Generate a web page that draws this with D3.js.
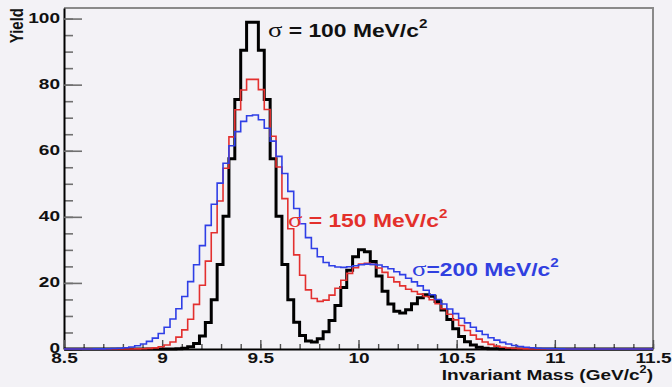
<!DOCTYPE html>
<html>
<head>
<meta charset="utf-8">
<script src="https://cdn.jsdelivr.net/npm/d3@7"></script>
<style>
  body { margin: 0; background: #f3f2f6; }
  svg { display: block; }
  text { font-family: "Liberation Sans", Arial, sans-serif; font-weight: bold; }
</style>
</head>
<body>
<svg id="chart" width="672" height="387"></svg>
<script>
// histogram binning (GeV/c^2)
const massMin = 8.5;
const massMax = 11.5;
const binWidth = 0.03;

// yields per bin, 100 bins from 8.5 to 11.5
const sigma100 = [
  0, 0, 0, 0, 0, 0, 0, 0, 0, 0, 0, 0, 0, 0, 0, 0, 0, 0,
  0.03, 0.09, 0.26, 0.7, 1.7, 3.9, 8.0, 14.9, 25.6, 40.2, 57.6, 75.5,
  90.4, 98.9, 98.9, 90.4, 75.5, 57.6, 40.2, 25.6, 14.9, 8.1,
  4.1, 2.4, 2.1, 3.1, 5.2, 8.6, 13.2, 18.6, 23.8, 27.9,
  30.0, 29.4, 26.5, 22.1, 17.5, 13.6, 11.4, 10.9, 11.9, 13.7,
  15.5, 16.4, 16.0, 14.4, 11.8, 8.9, 6.1, 3.8, 2.2, 1.2,
  0.55, 0.24, 0.1, 0.04,
  0, 0, 0, 0, 0, 0, 0, 0, 0, 0, 0, 0, 0, 0, 0, 0, 0, 0, 0, 0, 0, 0, 0, 0, 0, 0
];
const sigma150 = [
  0, 0, 0, 0, 0, 0, 0, 0, 0, 0, 0, 0,
  0.04, 0.09, 0.18, 0.35, 0.67, 1.2, 2.1, 3.6, 5.8, 9.0,
  13.5, 19.3, 26.6, 35.2, 44.8, 54.7, 64.2, 72.4, 78.4, 81.6,
  81.6, 78.5, 72.5, 64.4, 55.1, 45.5, 36.4, 28.5, 22.3, 17.9,
  15.3, 14.4, 14.8, 16.3, 18.4, 20.8, 22.9, 24.6, 25.7, 25.9,
  25.6, 24.5, 23.2, 21.7, 20.3, 19.1, 18.1, 17.4, 16.6, 15.9,
  14.9, 13.7, 12.2, 10.5, 8.8, 7.1, 5.6, 4.2, 3.0, 2.1,
  1.4, 0.88, 0.54, 0.32, 0.18, 0.1, 0.05, 0.02,
  0, 0, 0, 0, 0, 0, 0, 0, 0, 0, 0, 0, 0, 0, 0, 0, 0, 0, 0, 0
];
const sigma200 = [
  0, 0, 0, 0, 0,
  0.03, 0.05, 0.08, 0.14, 0.24, 0.39, 0.62, 0.98, 1.5, 2.3,
  3.3, 4.7, 6.6, 9.1, 12.2, 15.9, 20.4, 25.5, 31.3, 37.4,
  43.8, 50.2, 56.2, 61.5, 65.8, 68.9, 70.6, 70.8, 69.4, 66.8,
  62.9, 58.3, 53.1, 47.7, 42.5, 37.9, 33.7, 30.4, 27.9, 26.2,
  25.2, 24.8, 24.7, 24.9, 25.2, 25.5, 25.7, 25.6, 25.4, 24.9,
  24.3, 23.4, 22.5, 21.4, 20.3, 19.1, 17.8, 16.4, 15.0, 13.6,
  12.1, 10.7, 9.3, 7.9, 6.6, 5.4, 4.4, 3.4, 2.7, 2.0,
  1.5, 1.07, 0.76, 0.53, 0.36, 0.24, 0.15, 0.1, 0.06, 0.04, 0.02,
  0, 0, 0, 0, 0, 0, 0, 0, 0, 0, 0, 0, 0, 0
];

const xTicks = [8.5, 9, 9.5, 10, 10.5, 11, 11.5];
const yTicks = [0, 20, 40, 60, 80, 100];
const yMax = 103.2;

const margin = {top: 8, right: 19, bottom: 38, left: 64};
const width = 672, height = 387;
const stretch = 1.27; // text in the source is drawn a bit wide

const svg = d3.select('#chart');

svg.append('rect').attr('width', width).attr('height', height).attr('fill', '#f3f2f6');

const x = d3.scaleLinear().domain([massMin, massMax]).range([margin.left, width - margin.right]);
const y = d3.scaleLinear().domain([0, yMax]).range([height - margin.bottom, margin.top]);

// frame: gray top and right edges
svg.append('path')
  .attr('d', `M${x(massMin)},${y(yMax)}H${x(massMax)}V${y(0)}`)
  .attr('fill', 'none')
  .attr('stroke', '#8a8a8a')
  .attr('stroke-width', 2);

// y axis, ticks point inside
const yMinor = svg.append('g')
  .attr('transform', `translate(${x(massMin)},0)`)
  .call(d3.axisLeft(y).tickValues(d3.range(0, 101, 5)).tickSize(-9).tickSizeOuter(0).tickFormat(''));
yMinor.select('.domain').remove();
yMinor.selectAll('line').attr('stroke', '#707070').attr('stroke-width', 1.6);

const yAxis = svg.append('g')
  .attr('transform', `translate(${x(massMin)},0)`)
  .call(d3.axisLeft(y).tickValues(yTicks).tickSize(-18).tickSizeOuter(0))
  .attr('font-size', 15)
  .attr('font-family', null);
yAxis.select('.domain').attr('stroke', '#000').attr('stroke-width', 2);
yAxis.selectAll('line').attr('stroke', '#707070').attr('stroke-width', 1.6);
yAxis.selectAll('text')
  .attr('x', null)
  .attr('fill', '#111')
  .attr('transform', `translate(-4,-1) scale(${stretch},1)`);

// x axis
const xMinor = svg.append('g')
  .attr('transform', `translate(0,${y(0)})`)
  .call(d3.axisBottom(x).tickValues(d3.range(massMin, massMax + 0.01, 0.1)).tickSize(-5).tickSizeOuter(0).tickFormat(''));
xMinor.select('.domain').remove();
xMinor.selectAll('line').attr('stroke', '#505050').attr('stroke-width', 1.4);

const xAxis = svg.append('g')
  .attr('transform', `translate(0,${y(0)})`)
  .call(d3.axisBottom(x).tickValues(xTicks).tickSize(-9).tickSizeOuter(0).tickFormat(d => d))
  .attr('font-size', 15)
  .attr('font-family', null);
xAxis.select('.domain').attr('stroke', '#000').attr('stroke-width', 2);
xAxis.selectAll('line').attr('stroke', '#505050').attr('stroke-width', 1.4);
xAxis.selectAll('text')
  .attr('y', null)
  .attr('dy', null)
  .attr('fill', '#111')
  .attr('transform', `translate(0,14) scale(${stretch},1)`);

// histograms as step outlines
function binPoints(values) {
  const pts = values.map((v, i) => [massMin + i * binWidth, v]);
  pts.push([massMin + values.length * binWidth, values[values.length - 1]]);
  return pts;
}

const step = d3.line()
  .x(d => x(d[0]))
  .y(d => y(d[1]))
  .curve(d3.curveStepAfter);

const series = [
  {values: sigma100, color: '#000000', lw: 3},
  {values: sigma150, color: '#e3302f', lw: 1.6},
  {values: sigma200, color: '#2f3fe6', lw: 1.6}
];

svg.append('g')
  .selectAll('path')
  .data(series)
  .join('path')
  .attr('d', d => step(binPoints(d.values)))
  .attr('fill', 'none')
  .attr('stroke', d => d.color)
  .attr('stroke-width', d => d.lw)
  .attr('stroke-linejoin', 'miter');

// labels on the curves
function annotate(px, py, color, label) {
  const t = svg.append('text')
    .attr('transform', `translate(${px},${py}) scale(${stretch},1)`)
    .attr('font-size', 18)
    .attr('fill', color);
  t.append('tspan')
    .attr('font-family', '"Liberation Serif", "DejaVu Serif", serif')
    .attr('font-weight', 'normal')
    .attr('font-size', 21)
    .text('σ');
  t.append('tspan').text(label);
  t.append('tspan').attr('font-size', 12).attr('dy', -9).text('2');
}

annotate(268, 37, '#111111', ' = 100 MeV/c');
annotate(288, 227, '#e3302b', ' = 150 MeV/c');
annotate(412, 276, '#3040e0', '=200 MeV/c');

// axis titles
const xTitle = svg.append('text')
  .attr('transform', `translate(${x(massMax)},380) scale(${stretch},1)`)
  .attr('text-anchor', 'end')
  .attr('font-size', 15)
  .attr('fill', '#111');
xTitle.append('tspan').text('Invariant Mass (GeV/c');
xTitle.append('tspan').attr('font-size', 10).attr('dy', -7).text('2');
xTitle.append('tspan').attr('dy', 7).text(')');

svg.append('text')
  .attr('transform', `translate(23,${margin.top}) rotate(-90) scale(1,${stretch})`)
  .attr('text-anchor', 'end')
  .attr('font-size', 15)
  .attr('fill', '#111')
  .text('Yield');
</script>
</body>
</html>
